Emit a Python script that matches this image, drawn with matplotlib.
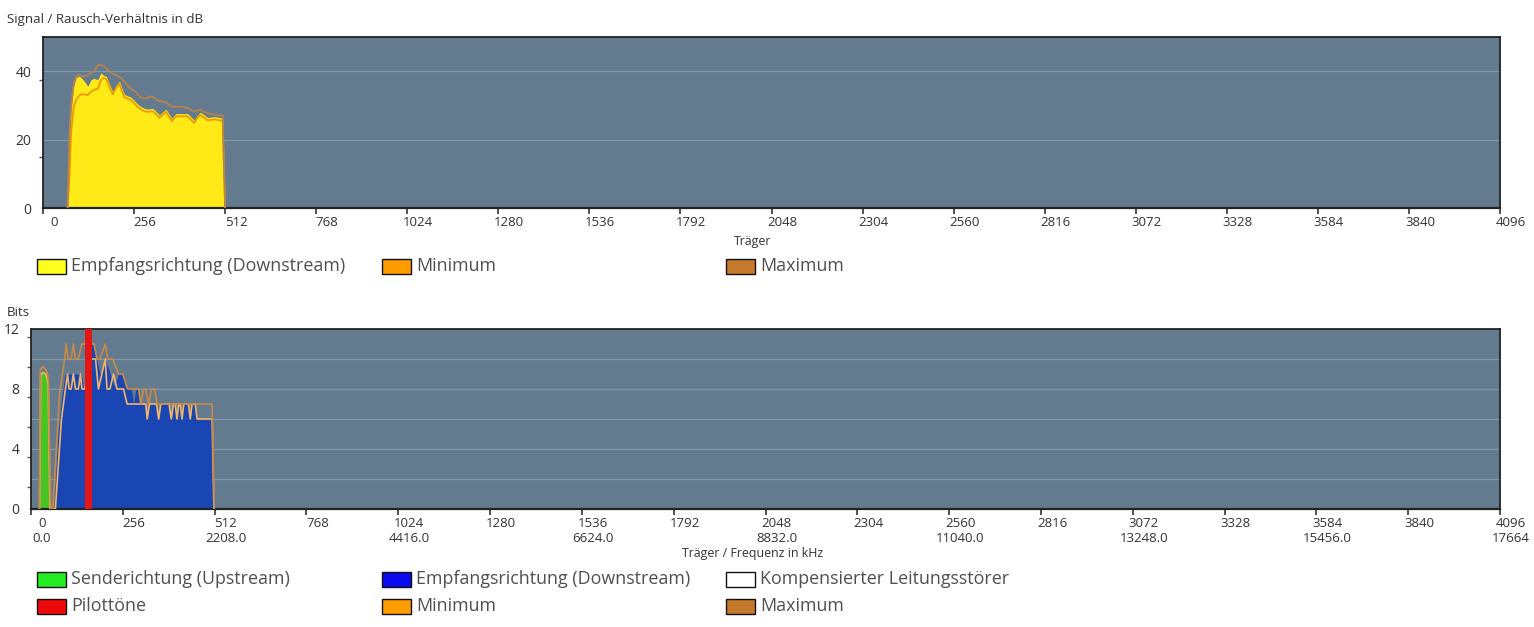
import matplotlib
matplotlib.use('Agg')
import matplotlib.pyplot as plt
import matplotlib.transforms as mtransforms
from matplotlib.patches import Rectangle

plt.rcParams['font.family'] = ['Open Sans', 'DejaVu Sans']

# --- SNR chart (top) ---
snr_carrier = [69, 74, 79, 86, 93, 100, 109, 118, 126, 135, 144, 154, 163, 170, 178,
               187, 196, 205, 215, 222, 229, 237, 245, 253, 261, 268, 276, 284, 292, 300,
               309, 318, 327, 336, 346, 354, 362, 368, 374, 390, 407, 416, 425, 433, 442,
               452, 463, 472, 482, 494, 505, 512]
snr_down = [0, 20, 29, 35.5, 38, 38.6, 37.9, 36.8, 35.6, 37.5, 37.9, 37.5, 39.5, 38.8, 38.5,
            36.2, 34, 35.8, 37.1, 35, 33.2, 32.8, 32.5, 31.8, 30.9, 30.2, 29.6, 29.2, 28.9, 29,
            29.1, 28.2, 27.2, 28, 28.9, 27.5, 26.2, 27, 27.6, 27.6, 27.6, 26.6, 25.7, 27, 28,
            27.3, 26.4, 26.6, 26.7, 26.5, 26.2, 0]
snr_min = [0, 8, 22, 29.5, 31.5, 32.7, 33.3, 33.2, 33, 34, 34.6, 34.8, 37.4, 38, 37.7,
           35.4, 33.2, 35, 36.3, 34.2, 32.4, 32, 31.7, 31, 30.1, 29.4, 28.8, 28.4, 28.1, 28.2,
           28.3, 27.4, 26.4, 27.2, 28.1, 26.7, 25.4, 26.2, 26.8, 26.8, 26.8, 25.8, 24.9, 26.2, 27.2,
           26.5, 25.6, 25.8, 25.9, 25.7, 25.4, 0]
snr_max = [0, 20.5, 29.5, 36, 38.5, 39, 38.5, 38.5, 38.9, 39.5, 40, 41.8, 41.8, 41.5, 40.8,
           40, 39.2, 38.9, 38.3, 37.7, 37, 36, 35, 34.5, 34, 33, 32.3, 32, 32.1, 32.6,
           32.5, 31.8, 31.2, 31.1, 31, 30.2, 29.6, 29.6, 29.6, 29.6, 29.2, 28.6, 28.2, 28.5, 28.7,
           28.2, 27.7, 27.5, 27.3, 27.1, 27, 0]

# --- Bits chart (bottom) ---
us_carrier = [24, 27, 33, 41, 45, 48, 50, 52, 54]
us_bits = [0, 9.0, 9.2, 9.1, 8.8, 8.5, 7, 1, 0]

ds_carrier = [64, 75, 86, 95, 140, 146, 152, 165, 172, 183, 193, 207, 221, 232, 244,
              256, 263, 280, 286, 292, 300, 306, 320, 324, 330, 350, 356, 362, 385, 391,
              397, 402, 407, 412, 416, 421, 426, 439, 444, 449, 458, 463, 468, 505, 510]
ds_bits = [0, 5, 7.5, 9, 9, 8.2, 9, 11, 11, 10, 9, 10, 9, 8.2, 9,
           9, 8.1, 8, 7, 8, 8, 7, 7, 6, 7, 7, 6, 7, 7, 6,
           7, 7, 6, 7, 7, 6, 7, 7, 6, 7, 7, 6, 6, 6, 0]

bits_min_carrier = [24, 27, 33, 41, 45, 48, 50, 53, 68, 85, 96, 102, 106, 112, 118,
                    124, 132, 138, 142, 150, 160, 172, 180, 188, 207, 212, 220, 230, 240, 258,
                    268, 313, 320, 324, 330, 350, 356, 362, 385, 391, 397, 402, 407, 412, 416,
                    421, 426, 439, 444, 449, 458, 463, 468, 505, 510]
bits_min = [0, 8.9, 9.1, 9.0, 8.7, 8.3, 5, 0, 0, 6, 8, 9, 8, 8, 9,
            8, 8, 9, 8, 8, 10, 10, 10, 8, 10, 8, 8, 9, 8, 8,
            7, 7, 7, 6, 7, 7, 6, 7, 7, 6, 7, 7, 6, 7, 7,
            6, 7, 7, 6, 7, 7, 6, 6, 6, 0]

bits_max_carrier = [23, 26, 33, 41, 46, 49, 51, 55, 61, 80, 94, 98, 104, 112, 118,
                    124, 132, 142, 150, 160, 170, 176, 184, 192, 207, 214, 228, 244, 256, 269,
                    300, 306, 314, 320, 328, 336, 344, 352, 505, 511]
bits_max = [0, 9.3, 9.5, 9.3, 9.0, 8.5, 5, 0, 0, 7.8, 10, 11, 10, 10, 11,
            10, 10, 11, 11, 12, 11, 11, 10, 10, 11, 10, 10, 9, 9, 8,
            8, 7, 8, 8, 7, 8, 8, 7, 7, 0]

pilot_carrier = [160]
pilot_bits = [12]

x_ticks = list(range(0, 4097, 256))
freq_per_carrier = 4.3125

W, H = 1534, 627
fig = plt.figure(figsize=(W / 100, H / 100), dpi=100)


def px_axes(l, t, r, b):
    return fig.add_axes([l / W, 1 - b / H, (r - l) / W, (b - t) / H])


def style(ax, ymax, grid, labels, minor):
    ax.set_facecolor('#647a8e')
    ax.set_xlim(0, 4096)
    ax.set_ylim(0, ymax)
    for s in ax.spines.values():
        s.set_color('#222222')
        s.set_linewidth(1.3)
    ax.spines['bottom'].set_linewidth(1.6)
    for g in grid:
        ax.axhline(g, color='#8298ab', lw=0.9, zorder=0.5)
    ax.set_yticks(labels)
    ax.set_yticks(minor, minor=True)
    ax.tick_params(axis='y', which='major', length=0, pad=8.5, labelsize=10, labelcolor='#333333')
    ax.tick_params(axis='y', which='minor', length=3, width=1, color='#555555')
    ax.set_xticks(x_ticks)
    ax.tick_params(axis='x', length=4, width=1.2, color='#333333', labelsize=9.5,
                   labelcolor='#333333', pad=2)


ax1 = px_axes(43, 37, 1500, 208)
style(ax1, 50, [20, 40], [0, 20, 40], [15, 37.5])
ax1.fill_between(snr_carrier, snr_down, color='#ffea17', lw=0, zorder=2)
ax1.plot(snr_carrier, snr_min, color='#eb9b00', lw=1.3, zorder=3)
ax1.plot(snr_carrier, snr_max, color='#b5844f', lw=1.3, zorder=3)
ax1.set_xticklabels([str(c) for c in x_ticks])

ax2 = px_axes(31, 329, 1500, 509)
style(ax2, 12, [2, 4, 6, 8, 10], [0, 4, 8, 12], [1.5, 3.5, 5.5, 7.5, 9.5, 11.5])
ax2.fill_between(us_carrier, us_bits, color='#45c622', lw=0, zorder=2)
ax2.fill_between(ds_carrier, ds_bits, color='#1a46b4', lw=0, zorder=2)
ax2.plot(bits_min_carrier, bits_min, color='#f0b56a', lw=1.2, zorder=3)
ax2.plot(bits_max_carrier, bits_max, color='#c98a45', lw=1.2, zorder=3)
ax2.bar(pilot_carrier, pilot_bits, width=19, color='#e51515', lw=0, zorder=4)
bottom_labels = []
for c in x_ticks:
    if c == 4096:
        bottom_labels.append('4096\n17664')
    elif c % 512 == 0:
        bottom_labels.append(f'{c}\n{c * freq_per_carrier:.1f}')
    else:
        bottom_labels.append(str(c))
ax2.set_xticklabels(bottom_labels, linespacing=1.15)

# shift x tick labels right of their ticks, like the original
offset = mtransforms.ScaledTranslation(0.11, 0, fig.dpi_scale_trans)
for ax in (ax1, ax2):
    for lab in ax.xaxis.get_majorticklabels():
        lab.set_transform(lab.get_transform() + offset)
        lab.set_verticalalignment('top')

# titles and axis labels
fig.text(7 / W, 1 - 19 / H, 'Signal / Rausch-Verhältnis in dB', fontsize=9.6, color='#333333',
         ha='left', va='center')
fig.text(7 / W, 1 - 313 / H, 'Bits', fontsize=9.6, color='#333333', ha='left', va='center')
fig.text(753 / W, 1 - 241 / H, 'Träger', fontsize=8.9, color='#333333', ha='center', va='center')
fig.text(753 / W, 1 - 554 / H, 'Träger / Frequenz in kHz', fontsize=8.9, color='#333333',
         ha='center', va='center')

# legends
legend_rows = [
    (266, [('Empfangsrichtung (Downstream)', '#ffff1e'), ('Minimum', '#ff9c00'),
           ('Maximum', '#c47a2a')]),
    (579, [('Senderichtung (Upstream)', '#22ee22'), ('Empfangsrichtung (Downstream)', '#0a0aee'),
           ('Kompensierter Leitungsstörer', '#ffffff')]),
    (606, [('Pilottöne', '#ee0a0a'), ('Minimum', '#ff9c00'), ('Maximum', '#c47a2a')]),
]
col_x = [37, 382, 726]
for yc, items in legend_rows:
    for x0, (name, col) in zip(col_x, items):
        fig.patches.append(Rectangle((x0 / W, 1 - (yc + 7.5) / H), 29 / W, 15 / H,
                                     transform=fig.transFigure, facecolor=col,
                                     edgecolor='#111111', lw=1))
        fig.text((x0 + 34) / W, 1 - yc / H, name, fontsize=12.9, color='#505050',
                 ha='left', va='center')

fig.savefig('out.png', dpi=100)
